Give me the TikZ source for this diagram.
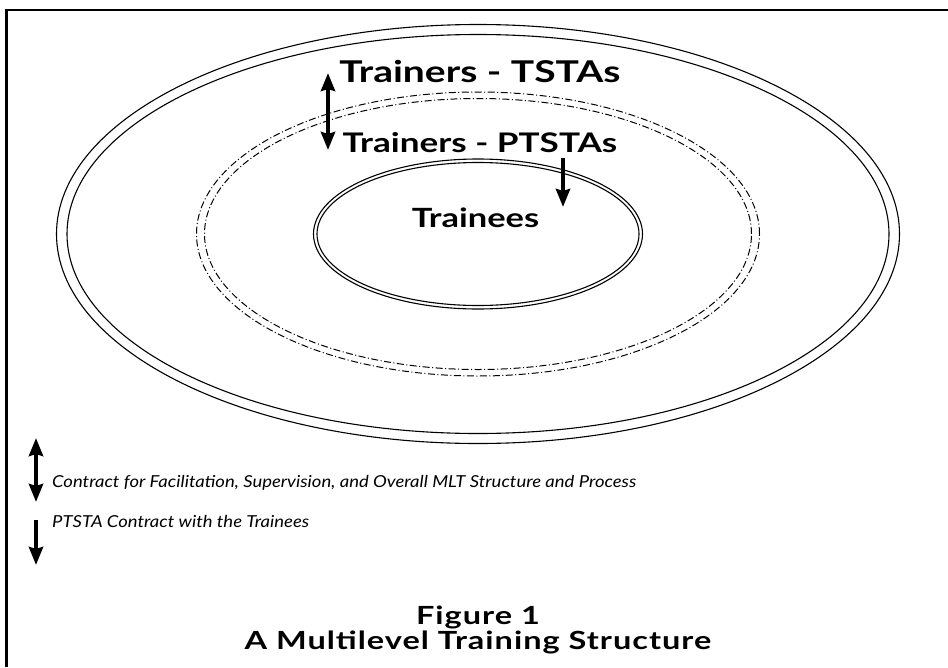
\documentclass[tikz,border=0pt]{standalone}
\usepackage{fontspec}
\setmainfont{Lato}
\newfontfamily\levelfont[FakeStretch=1.3]{Lato}
\newfontfamily\keyfont[FakeStretch=1.12]{Lato}
\usetikzlibrary{arrows.meta}
\begin{document}
\begin{tikzpicture}[x=1pt,y=-1pt,
	ring/.style={line width=1.1pt},
	dashring/.style={line width=1pt,dash pattern=on 7pt off 2.5pt on 1pt off 2.5pt},
	oneway/.style={line width=4pt,-{Stealth[length=18pt,width=14pt,inset=2pt]}},
	bothway/.style={line width=4pt,{Stealth[length=18pt,width=14pt,inset=2pt]}-{Stealth[length=18pt,width=14pt,inset=2pt]}},
	level/.style={font=\levelfont\fontsize{#1}{#1}\selectfont\bfseries,inner sep=0pt,anchor=base},
	caption/.style={font=\levelfont\fontsize{25}{25}\selectfont\bfseries\addfontfeature{LetterSpace=4},inner sep=0pt,anchor=base},
	legend/.style={font=\keyfont\fontsize{#1}{#1}\selectfont\itshape,inner sep=0pt,anchor=base west}]
	\useasboundingbox (0,0) rectangle (948,667);
	\def\cx{478}	% centre of all rings
	\def\cy{234}
	% frame
		\draw [line width=2.6pt] (6.2,667) -- (6.2,9.8) -- (948,9.8);
	% rings
		\draw [ring] (\cx,\cy) ellipse [x radius=421.5pt,y radius=209.5pt];
		\draw [ring] (\cx,\cy) ellipse [x radius=411pt,y radius=199.5pt];
		\draw [dashring] (\cx,\cy) ellipse [x radius=281.5pt,y radius=142pt];
		\draw [dashring] (\cx,\cy) ellipse [x radius=273.5pt,y radius=135.5pt];
		\draw [ring] (\cx,\cy) ellipse [x radius=164.5pt,y radius=75pt];
		\draw [ring] (\cx,\cy) ellipse [x radius=161pt,y radius=71.5pt];
	% levels
		\node [level=30] (tstas) at (480,82) {Trainers - TSTAs};
		\node [level=27] (ptstas) at (480,152) {Trainers - PTSTAs};
		\node [level=26.5] (trainees) at (475.5,227) {Trainees};
	% contracts
		\coordinate (tsta top) at (328,73);
		\coordinate (tsta bottom) at (328,150);
		\coordinate (ptsta top) at (563,158);
		\coordinate (ptsta bottom) at (563,207);
		\draw [bothway] (tsta top) -- (tsta bottom);
		\draw [oneway] (ptsta top) -- (ptsta bottom);
	% legend
		\coordinate (key both top) at (36,438);
		\coordinate (key both bottom) at (36,502);
		\coordinate (key one top) at (36,520);
		\coordinate (key one bottom) at (36,565);
		\draw [bothway] (key both top) -- (key both bottom);
		\draw [oneway] (key one top) -- (key one bottom);
		\node [legend=16.5] (key both) at (52,487) {Contract for Facilitation, Supervision, and Overall MLT Structure and Process};
		\node [legend=16.5] (key one) at (52,527) {PTSTA Contract with the Trainees};
	% caption
		\node [caption] (fig) at (478,624) {Figure 1};
		\node [caption] (title) at (478,649) {A Multilevel Training Structure};
\end{tikzpicture}
\end{document}
